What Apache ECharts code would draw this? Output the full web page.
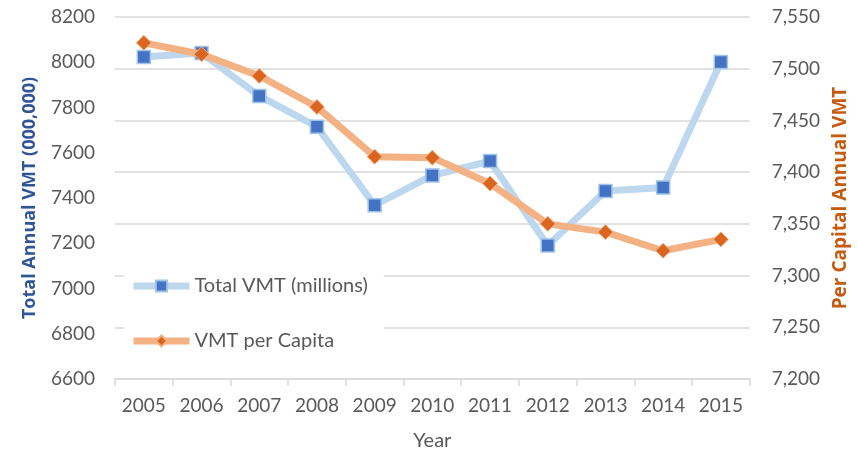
<!DOCTYPE html>
<html>
<head>
    <meta charset="utf-8">
    <script src="https://cdn.jsdelivr.net/npm/echarts@6/dist/echarts.min.js"></script>
</head>
<body style="margin:0;background:#fff;">
    <div id="main" style="width:858px;height:456px;"></div>
    <script type="text/javascript">
        var years = ['2005', '2006', '2007', '2008', '2009', '2010', '2011', '2012', '2013', '2014', '2015'];
        var totalVmt = [8023, 8041, 7851, 7715, 7368, 7500, 7563, 7190, 7431, 7446, 8001];
        var vmtPerCapita = [7525, 7514, 7493, 7463, 7415, 7414, 7389, 7350, 7342, 7324, 7335];

        var font = 'Lato, "Open Sans", sans-serif';
        var boldFont = '"Open Sans", "Noto Sans", sans-serif';
        var grey = '#595959';

        var myChart = echarts.init(document.getElementById('main'));
        var option = {
            backgroundColor: '#fff',
            textStyle: {fontFamily: font},
            grid: {left: 115, right: 108, top: 17, bottom: 74},
            legend: {
                orient: 'vertical',
                left: 124,
                top: 270,
                itemWidth: 56,
                itemHeight: 14,
                itemGap: 35,
                backgroundColor: '#fff',
                padding: [6, 16, 6, 6],
                lineStyle: {width: 7},
                textStyle: {fontSize: 20, color: grey, fontFamily: font},
                data: ['Total VMT (millions)', 'VMT per Capita']
            },
            xAxis: {
                type: 'category',
                data: years,
                name: 'Year',
                nameLocation: 'middle',
                nameGap: 52,
                nameTextStyle: {fontSize: 20, color: grey},
                axisLine: {lineStyle: {color: '#D9D9D9', width: 1.5}},
                axisTick: {show: true, interval: 0, length: 7, lineStyle: {color: '#D9D9D9', width: 1.5}},
                axisLabel: {interval: 0, fontSize: 19, color: grey, margin: 17}
            },
            yAxis: [
                {
                    type: 'value',
                    min: 6600,
                    max: 8200,
                    interval: 200,
                    name: 'Total Annual VMT (000,000)',
                    nameLocation: 'middle',
                    nameGap: 76,
                    nameTextStyle: {fontSize: 18, fontWeight: 'bold', color: '#2F5597', fontFamily: boldFont},
                    axisLine: {show: false},
                    axisTick: {show: false},
                    splitLine: {show: false},
                    axisLabel: {
                        fontSize: 19, color: grey, margin: 20,
                        formatter: function (v) { return String(v); }
                    }
                },
                {
                    type: 'value',
                    min: 7200,
                    max: 7550,
                    interval: 50,
                    name: 'Per Capital Annual VMT',
                    nameLocation: 'middle',
                    nameGap: 80,
                    nameRotate: 90,
                    nameTextStyle: {fontSize: 19, fontWeight: 'bold', color: '#C55A11', fontFamily: boldFont},
                    axisLine: {show: false},
                    axisTick: {show: false},
                    splitLine: {show: true, lineStyle: {color: '#D9D9D9', width: 1.5}},
                    axisLabel: {
                        fontSize: 19, color: grey, margin: 22,
                        formatter: function (v) { return v.toLocaleString('en-US'); }
                    }
                }
            ],
            series: [
                {
                    name: 'Total VMT (millions)',
                    type: 'line',
                    yAxisIndex: 0,
                    data: totalVmt,
                    symbol: 'rect',
                    symbolSize: 13,
                    lineStyle: {color: '#BDD7EE', width: 7},
                    itemStyle: {color: '#4472C4', borderColor: '#9DC3E6', borderWidth: 1.5},
                    z: 2
                },
                {
                    name: 'VMT per Capita',
                    type: 'line',
                    yAxisIndex: 1,
                    data: vmtPerCapita,
                    symbol: 'diamond',
                    symbolSize: 15,
                    lineStyle: {color: '#F4B183', width: 7},
                    itemStyle: {color: '#D9651E', borderColor: '#F4B183', borderWidth: 1},
                    z: 3
                }
            ]
        };
        myChart.setOption(option);
    </script>
</body>
</html>
